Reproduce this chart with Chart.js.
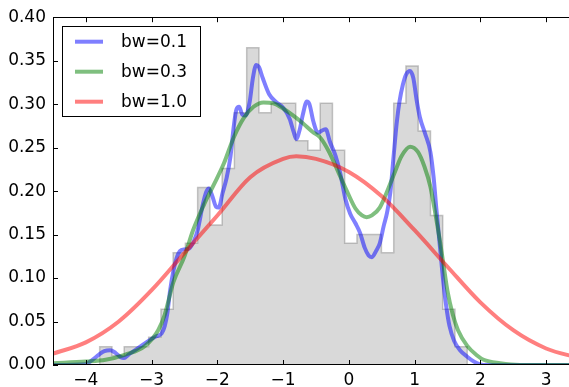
<!DOCTYPE html>
<html>
<head>
<meta charset="utf-8">
<script src="https://cdn.jsdelivr.net/npm/chart.js@4.4.1/dist/chart.umd.min.js"></script>
<style>
  html, body { margin: 0; padding: 0; background: #fff; overflow: hidden; }
  #wrap { width: 581px; height: 387px; }
</style>
</head>
<body>
<div id="wrap"><canvas id="kde" width="581" height="387"></canvas></div>
<script>
// histogram (30 bins, density)
const histEdges = [-3.790, -3.604, -3.417, -3.231, -3.045, -2.858, -2.672, -2.486, -2.300, -2.113,
                   -1.927, -1.741, -1.554, -1.368, -1.182, -0.995, -0.809, -0.623, -0.436, -0.250,
                   -0.064, 0.123, 0.309, 0.495, 0.682, 0.868, 1.054, 1.241, 1.427, 1.613, 1.800];
const histHeights = [0.021, 0.011, 0.021, 0.021, 0.032, 0.064, 0.129, 0.140, 0.204, 0.161,
                     0.226, 0.290, 0.365, 0.290, 0.301, 0.301, 0.258, 0.247, 0.301, 0.247,
                     0.140, 0.150, 0.150, 0.129, 0.301, 0.344, 0.269, 0.172, 0.064, 0.021];

// bw=0.1
const bw01X = [-4.5, -4.0, -3.9, -3.8, -3.72, -3.63, -3.55, -3.47, -3.42, -3.35, -3.25, -3.12, -3.0, -2.93,
               -2.85, -2.80, -2.76, -2.72, -2.67, -2.62, -2.57, -2.50, -2.43, -2.36, -2.30, -2.22, -2.17,
               -2.13, -2.08, -2.02, -1.98, -1.92, -1.86, -1.80, -1.75, -1.71, -1.67, -1.62, -1.57, -1.51,
               -1.46, -1.41, -1.37, -1.31, -1.21, -1.10, -1.00, -0.90, -0.84, -0.80, -0.75, -0.70, -0.64,
               -0.60, -0.54, -0.47, -0.40, -0.35, -0.29, -0.20, -0.13, -0.05, 0.02, 0.10, 0.17, 0.24, 0.30,
               0.35, 0.42, 0.47, 0.53, 0.58, 0.63, 0.68, 0.73, 0.77, 0.82, 0.87, 0.93, 0.98, 1.03, 1.08,
               1.16, 1.24, 1.29, 1.33, 1.38, 1.43, 1.48, 1.53, 1.60, 1.69, 1.80, 1.90, 2.05, 3.5];
const bw01Y = [0.0, 0.001, 0.006, 0.012, 0.016, 0.017, 0.014, 0.009, 0.008, 0.012, 0.017, 0.024, 0.030, 0.033,
               0.036, 0.045, 0.060, 0.085, 0.108, 0.123, 0.131, 0.133, 0.134, 0.142, 0.155, 0.185, 0.199,
               0.203, 0.195, 0.182, 0.181, 0.198, 0.215, 0.240, 0.275, 0.294, 0.297, 0.288, 0.287, 0.302,
               0.330, 0.345, 0.343, 0.330, 0.311, 0.302, 0.296, 0.283, 0.268, 0.260, 0.270, 0.288, 0.303,
               0.300, 0.280, 0.267, 0.270, 0.271, 0.257, 0.240, 0.220, 0.190, 0.174, 0.163, 0.152, 0.135, 0.126,
               0.124, 0.132, 0.140, 0.160, 0.175, 0.198, 0.240, 0.280, 0.303, 0.322, 0.334, 0.338, 0.330, 0.305, 0.285,
               0.266, 0.245, 0.215, 0.180, 0.140, 0.100, 0.068, 0.045, 0.028, 0.017, 0.0095, 0.004, 0.0, 0.0];

// bw=0.3
const bw03X = [-4.5, -4.0, -3.7, -3.4, -3.1, -2.9, -2.8, -2.67, -2.5, -2.37, -2.2, -2.05, -1.9, -1.75, -1.6,
               -1.45, -1.3, -1.15, -1.0, -0.85, -0.7, -0.55, -0.44, -0.3, -0.15, -0.03, 0.1, 0.2, 0.27, 0.35,
               0.47, 0.6, 0.7, 0.8, 0.93, 1.05, 1.15, 1.24, 1.32, 1.38, 1.44, 1.5, 1.58, 1.66, 1.8, 1.95,
               2.05, 2.3, 2.6, 3.5];
const bw03Y = [0.002, 0.004, 0.006, 0.012, 0.022, 0.040, 0.058, 0.095, 0.125, 0.155, 0.185, 0.208, 0.232, 0.262, 0.284,
               0.297, 0.302, 0.301, 0.295, 0.287, 0.278, 0.268, 0.262, 0.245, 0.220, 0.200, 0.180, 0.172, 0.170, 0.172,
               0.181, 0.203, 0.222, 0.240, 0.251, 0.245, 0.228, 0.205, 0.172, 0.145, 0.115, 0.085, 0.058, 0.040, 0.022, 0.011,
               0.006, 0.002, 0.0, 0.0];

// bw=1.0
const bw10X = [-4.5, -4.0, -3.5, -3.0, -2.5, -2.0, -1.5, -1.0, -0.8, -0.5, 0.0, 0.5, 1.0, 1.5, 2.0, 2.5, 3.0, 3.5];
const bw10Y = [0.013, 0.026, 0.050, 0.086, 0.129, 0.172, 0.216, 0.237, 0.240, 0.237, 0.222, 0.194, 0.155, 0.113, 0.072, 0.040, 0.019, 0.008];

const xTicks = [-4, -3, -2, -1, 0, 1, 2, 3];
const yTicks = [0, 0.05, 0.10, 0.15, 0.20, 0.25, 0.30, 0.35, 0.40];

const FONT = 'DejaVu Sans';

const toPts = (xs, ys) => xs.map((x, i) => ({ x, y: ys[i] }));

// step outline for the stepfilled histogram
const histPts = [{ x: histEdges[0], y: 0 }];
histHeights.forEach((h, i) => histPts.push({ x: histEdges[i], y: h }));
histPts.push({ x: histEdges[histEdges.length - 1], y: 0 });

const framePlugin = {
    id: 'frame',
    afterDatasetsDraw(chart) {
        const { ctx, chartArea: a, scales: { x, y } } = chart;
        ctx.save();
        ctx.strokeStyle = '#000';
        ctx.lineWidth = 1;
        ctx.beginPath();
        x.ticks.forEach(t => {
            const px = Math.round(x.getPixelForValue(t.value)) + 0.5;
            ctx.moveTo(px, a.bottom); ctx.lineTo(px, a.bottom - 5);
            ctx.moveTo(px, a.top);    ctx.lineTo(px, a.top + 5);
        });
        y.ticks.forEach(t => {
            const py = Math.round(y.getPixelForValue(t.value)) + 0.5;
            ctx.moveTo(a.left, py);  ctx.lineTo(a.left + 5, py);
            ctx.moveTo(a.right, py); ctx.lineTo(a.right - 5, py);
        });
        ctx.stroke();
        ctx.strokeRect(Math.round(a.left) + 0.5, Math.round(a.top) + 0.5,
                       Math.round(a.width) - 1, Math.round(a.height) - 1);
        ctx.restore();
    }
};

const legendPlugin = {
    id: 'boxLegend',
    afterDraw(chart) {
        const { ctx } = chart;
        const items = chart.data.datasets.filter(d => d.label);
        const bx = 62.5, by = 26.5, bw = 138, bh = 90;
        ctx.save();
        ctx.fillStyle = '#fff';
        ctx.fillRect(bx, by, bw, bh);
        ctx.strokeStyle = '#000';
        ctx.lineWidth = 1;
        ctx.strokeRect(bx, by, bw, bh);
        ctx.font = `17px "${FONT}"`;
        ctx.textBaseline = 'middle';
        items.forEach((d, i) => {
            const ly = 41.7 + i * 30;
            ctx.strokeStyle = d.borderColor;
            ctx.lineWidth = 4;
            ctx.beginPath();
            ctx.moveTo(75, ly); ctx.lineTo(103, ly);
            ctx.stroke();
            ctx.fillStyle = '#000';
            ctx.fillText(d.label, 121, ly + 1);
        });
        ctx.restore();
    }
};

new Chart(document.getElementById('kde'), {
    type: 'line',
    data: {
        datasets: [
            { label: 'bw=0.1', data: toPts(bw01X, bw01Y), borderColor: 'rgba(0,0,255,0.5)',
              borderWidth: 4, pointRadius: 0, cubicInterpolationMode: 'monotone', fill: false, order: 2 },
            { label: 'bw=0.3', data: toPts(bw03X, bw03Y), borderColor: 'rgba(0,128,0,0.5)',
              borderWidth: 4, pointRadius: 0, cubicInterpolationMode: 'monotone', fill: false, order: 1 },
            { label: 'bw=1.0', data: toPts(bw10X, bw10Y), borderColor: 'rgba(255,0,0,0.5)',
              borderWidth: 4, pointRadius: 0, cubicInterpolationMode: 'monotone', fill: false, order: 0 },
            { label: '', data: histPts, stepped: 'before', borderColor: 'rgba(128,128,128,0.45)',
              backgroundColor: 'rgba(128,128,128,0.3)', borderWidth: 1.5, pointRadius: 0,
              fill: 'origin', order: 3 }
        ]
    },
    options: {
        responsive: false,
        animation: false,
        devicePixelRatio: 1,
        layout: { padding: { top: 16, right: 2, left: 0, bottom: 0 } },
        plugins: { legend: { display: false }, tooltip: { enabled: false } },
        scales: {
            x: {
                type: 'linear', min: -4.5, max: 3.5,
                grid: { display: false, drawTicks: false },
                border: { display: false },
                afterBuildTicks: s => { s.ticks = xTicks.map(v => ({ value: v })); },
                afterFit: s => { s.height = 22; },
                ticks: {
                    padding: 5, color: '#000', font: { family: FONT, size: 17 },
                    maxRotation: 0,
                    callback: v => String(v).replace('-', '\u2212')
                }
            },
            y: {
                min: 0, max: 0.4,
                grid: { display: false, drawTicks: false },
                border: { display: false },
                afterBuildTicks: s => { s.ticks = yTicks.map(v => ({ value: v })); },
                afterFit: s => { s.width = 53; },
                ticks: {
                    padding: 7, color: '#000', font: { family: FONT, size: 17 },
                    callback: v => v.toFixed(2)
                }
            }
        }
    },
    plugins: [framePlugin, legendPlugin]
});
</script>
</body>
</html>
